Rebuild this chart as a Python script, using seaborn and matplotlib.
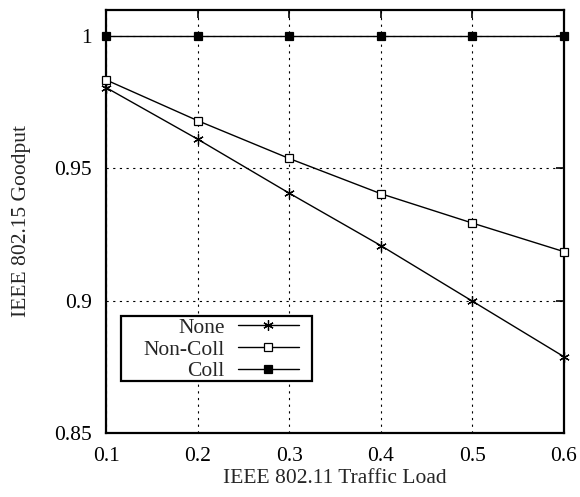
import matplotlib
matplotlib.use("Agg")
import matplotlib.pyplot as plt
import seaborn as sns
from matplotlib.patches import Rectangle

# values
traffic_load = [0.1, 0.2, 0.3, 0.4, 0.5, 0.6]
none_goodput = [0.9805, 0.961, 0.9406, 0.9208, 0.8998, 0.8788]
noncoll_goodput = [0.9834, 0.968, 0.9537, 0.9404, 0.9293, 0.9185]
coll_goodput = [1.0, 1.0, 1.0, 1.0, 1.0, 1.0]

series_names = ["None", "Non-Coll", "Coll"]
x_ticks = [0.1, 0.2, 0.3, 0.4, 0.5, 0.6]
y_ticks = [0.85, 0.9, 0.95, 1.0]
y_tick_labels = ["0.85", "0.9", "0.95", "1"]

sns.set_theme(style="white")
plt.rcParams["font.family"] = ["Liberation Serif", "DejaVu Serif"]

fig = plt.figure(figsize=(5.8, 4.97), dpi=100)
ax = fig.add_axes([0.1828, 0.1288, 0.7896, 0.8511])

# asterisk / open square / filled square, all in black
styles = {
    "None": dict(marker=(6, 2, 0), markersize=7.5, markerfacecolor="black"),
    "Non-Coll": dict(marker="s", markersize=5.5, markerfacecolor="white"),
    "Coll": dict(marker="s", markersize=5.5, markerfacecolor="black"),
}
for name, values in zip(series_names, [none_goodput, noncoll_goodput, coll_goodput]):
    sns.lineplot(x=traffic_load, y=values, color="black", linewidth=1.0,
                 markeredgecolor="black", markeredgewidth=0.9,
                 label=name, ax=ax, clip_on=False, zorder=3, **styles[name])

ax.set_xlim(0.1, 0.6)
ax.set_ylim(0.85, 1.0098)
ax.set_xticks(x_ticks)
ax.set_xticklabels([str(t) for t in x_ticks])
ax.set_yticks(y_ticks)
ax.set_yticklabels(y_tick_labels)
ax.tick_params(direction="in", length=6, width=1.2, labelsize=15.5,
               top=True, right=True, pad=10, colors="black")
ax.grid(True, color="black", linestyle=(0, (2, 4)), linewidth=0.8)
for s in ax.spines.values():
    s.set_color("black")
    s.set_linewidth(1.6)

ax.set_xlabel("IEEE 802.11 Traffic Load", fontsize=15.5, labelpad=2)
ax.set_ylabel("IEEE 802.15 Goodput", fontsize=15.5, labelpad=17)

# gnuplot-style key: labels right-aligned, samples on the right, wide box
handles, labels = ax.get_legend_handles_labels()
leg = ax.legend(
    handles, labels, loc="upper right", bbox_to_anchor=(0.4214, 0.272),
    markerfirst=False, fontsize=15.5, frameon=False,
    handlelength=2.85, handletextpad=0.6, borderpad=0, labelspacing=0.07,
    borderaxespad=0,
)
ax.add_patch(Rectangle((0.0328, 0.1229), 0.417, 0.1537, transform=ax.transAxes,
                       facecolor="white", edgecolor="black", linewidth=1.6,
                       zorder=4))
leg.set_zorder(5)

fig.savefig("out.png", dpi=100)
